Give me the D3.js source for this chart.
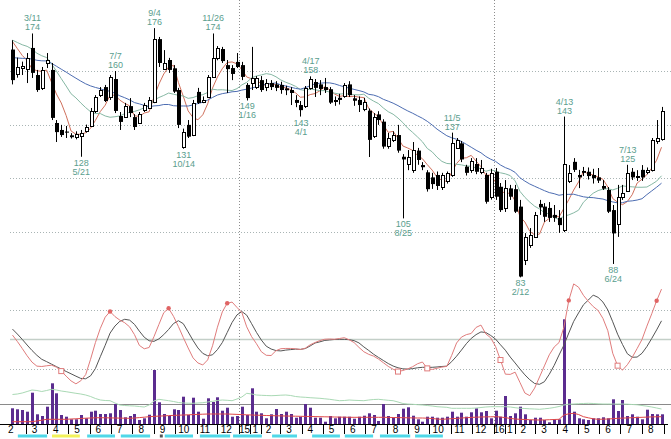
<!DOCTYPE html>
<html><head><meta charset="utf-8">
<script src="https://cdn.jsdelivr.net/npm/d3@7"></script>
<style>body{margin:0;background:#fff}svg{display:block}</style>
</head><body>
<svg id="c" width="671" height="439"></svg>
<script>
// ---------- data (weekly candles starting week of 2014-02-10) ----------
const startWeek = "2014-02-10";
const opens = [168,159,161,161,168.6,158.5,153.7,163,160.4,140.6,
138,137.4,136,135.5,135.8,137.6,139.5,145.1,151,154,
150.3,157,143.2,142.8,146.9,142.8,140.6,145.4,146.2,148.4,
171.9,160.7,164.1,161,152.9,131.8,139.9,136.1,152.2,148.4,
150.4,157.9,165,168.2,162.2,161.1,163.4,162.2,154.8,155.5,
154,156.6,154,155.5,155,154.8,153.5,152.9,149.2,147.3,
146.9,153.7,155.9,155,154,153.2,148.5,150,150.7,155,
149.8,149.2,146,145.2,135.7,143.8,141.1,131.8,134.3,136.1,
128,125.3,123.1,130.3,124.9,122.2,120.3,121.2,116.8,118.7,
121.2,131.5,133,124.3,122.8,125.3,122.3,121.2,113,122.4,
116.8,108.8,116.2,115.9,109.4,89.5,95.1,98.2,110.4,109.4,
108.9,106.3,105.2,100.7,118.7,126.1,121.2,122.7,122.4,121.2,
120.3,117.1,115.6,108.1,103.2,113,115.3,122.4,120.5,123.1,
122.5,123.1,133.6,134.9];
const highs = [171.5,165,163.5,166.7,174,160.4,161.5,166.7,163,141.7,
139.9,139.5,136.8,137.5,138,140,146.2,151,154,154.8,
158.5,160,144.7,148.1,149.9,143.9,144.7,148.1,150.3,176,
172.7,167.8,164.9,162.2,153.7,138.5,141.7,149.2,153.7,150.5,
158.5,174,169.3,169,164.1,162.2,166.7,163.4,155.5,169,
158.1,158.1,157,156.6,156.2,156,154.5,154,151,148.8,
154.4,158,157,156.6,157.4,154,150.5,151.5,155.5,156.2,
151,150.5,150,146,144.3,145,142,136.9,137.5,139.9,
129,130.5,133.5,131.3,126,123,122,122.5,122,122.5,
137,135,133.9,125,127.5,127.5,126.8,122,123.5,123.8,
118.2,119.3,117.5,117.5,111.9,99.5,101.4,107.4,111.9,110.7,
111.1,110,108.1,143,124.9,127.5,123.1,124.2,124,123.5,
123.8,119.3,116.7,110,117.5,117.5,125,123.8,123,124.9,
124,135,141.7,146.6];
const lows = [155,157.5,158.5,155.5,157.4,152.2,152.9,161.1,141.7,133.5,
135.4,135,134.8,134.5,128,137,139.1,144.3,150.3,148.4,
149.2,144.3,138,142.5,142.8,138,140.6,144.7,146,148,
161.5,160.4,159.3,151.8,138.7,131,135,135.7,147.7,148,
150.3,157.4,164,163,151.8,156.6,161.1,156.6,149,152.9,
153.3,152.2,152.5,152.9,152.5,151.5,151,147.3,146.5,143,
146.2,153,150.3,151,151.8,147.7,147,147.5,150,150.3,
147,144.7,145,127.9,135,139.9,131,131,133.5,129.5,
105,123,122,125,123,115,116,115.6,115.6,118,
120.5,131,126,121,122,121.5,121.5,110.5,112,111.9,
107.4,107.4,111.9,107,83,87.6,94,97.7,106.3,103.7,
103.7,103.7,99.6,99.9,118.2,122.3,116.3,120.8,119.5,118,
118.2,115.6,107,88,98.1,111.9,114.9,119.3,119,119,
121.5,122.5,132.8,134];
const closes = [156.6,161.5,161.8,165,159.3,152.9,160.4,164.1,142.5,137.2,
136.1,137,135.3,136.5,137,139.1,145.1,150.3,152.9,148.8,
157.8,145.1,141,146.9,144.3,139.1,144,147.3,149.2,171.9,
163,163,160.4,152.3,139.9,137.4,135.5,148.1,148.1,149.2,
157.9,165,168.6,163.7,160.7,158.9,161.5,157.8,149.9,157.4,
157.4,152.9,155.5,154,153.7,152.9,152.8,151.8,148.1,145.4,
153.7,157,153.7,153.3,152.9,148.2,149,149.2,154.8,151,
148.9,147.3,148.5,134.3,142.9,141.7,131.8,134.9,136.1,130.3,
127,128,130.5,126.8,124.1,115.9,117.8,117.1,121.2,121.8,
133,134.3,127,122,126.3,122.4,123.7,111.2,122.1,113.1,
108.1,116.2,113.1,107.5,83.3,98.2,98.9,106.3,109.1,105.6,
105.2,105.2,102.5,125.3,121.8,123.1,120.3,122,120.8,120,
119.1,116.1,107.5,99.4,113.1,114.5,122,120.3,121,120.3,
123.1,134.3,134.9,145.2];
const volumes = [157,147,140,123,313,97,80,173,407,307,
90,73,47,47,90,57,123,133,100,100,
107,200,140,67,80,100,40,57,93,540,
217,100,80,147,140,273,90,263,123,53,
257,220,267,133,163,73,80,173,90,357,
123,107,57,97,150,100,123,100,63,73,
200,163,63,63,23,80,57,73,73,73,
53,73,83,107,90,30,200,80,63,100,
153,167,83,47,23,73,73,63,63,73,
123,73,113,73,117,157,117,130,57,133,
73,280,80,107,173,97,40,63,63,40,
17,47,47,1047,250,123,57,47,40,57,
57,67,57,247,130,240,80,97,73,47,
143,100,97,97];
const marginBuy = [295,300,310,325,340,335,325,335,347,340,
330,323,315,307,300,290,275,255,240,235,
233,210,190,185,182,180,175,170,190,230,
247,240,233,225,215,210,208,207,210,213,
220,227,235,240,237,233,250,270,307,300,
290,287,285,283,285,288,290,285,275,270,
267,263,260,257,252,247,240,233,235,240,
237,235,233,240,245,247,242,237,233,220,
205,200,197,193,190,185,180,173,170,167,
157,157,157,157,157,160,165,170,173,173,
173,173,170,163,157,155,152,150,147,152,
157,165,175,190,198,200,203,205,207,205,
202,200,200,200,200,200,198,195,192,185,
178,170,160,150];
const marginSell = [23,23,23,23,23,30,38,47,47,47,
47,47,50,52,55,58,60,62,63,62,
61,60,59,58,57,60,64,68,73,76,
79,81,84,86,88,90,92,94,96,98,
100,100,100,100,100,98,96,94,92,90,
88,87,85,84,82,81,80,79,78,77,
76,75,74,73,72,71,70,69,68,67,
67,67,67,67,67,67,67,66,65,64,
63,62,61,60,60,58,55,50,47,50,
53,56,60,63,66,68,70,71,72,73,
70,63,56,50,47,45,43,41,40,41,
43,45,47,90,102,107,95,73,62,52,
47,48,50,53,57,59,61,63,65,67,
69,71,72,73];
const oscFast = [53.3,47.9,42,35.8,30.4,27,26.7,27.3,27.8,26.2,
22.8,18.5,14.5,12,14.6,19.8,32.8,47,59,68.5,
73.3,69,66,63.8,60.3,53.7,44.6,41.7,42.8,52,
62.3,72.3,76,69.2,60.6,51.3,42.4,34,29.7,28,
32.3,44.3,60,73,80.3,81.3,76.8,72.5,60.3,52,
46,39.2,36.2,36,40.1,41.8,42,42,41.7,41.1,
42.2,45.1,47,48.7,49.8,50,49.8,50.4,51.1,49.3,
47,42.9,39.2,37,35.5,33,29.9,26.8,24.4,22.4,
23.3,24.7,26.5,29,30.5,25.1,24.2,25.2,26.2,26.8,
36.1,46.6,51.6,53.7,54.7,59.8,61.8,54.3,51,43.6,
32.2,20.2,20,21.9,13.1,4.2,2,8.4,17.8,27.2,
36.6,43.2,47,60,82.7,96.7,93.9,87,81.9,77.5,
74.2,67.4,57,37.9,27.4,23.6,28.2,34.5,41.9,49.6,
60.9,71.4,82.4,92.3];
const oscSlow = [58.4,54.2,49.7,44.9,40.3,36.2,32.8,30.8,28.7,26.6,
24.5,22.5,20.5,18.5,16.6,16.3,18.8,25,35,44.7,
55,61,65,66.7,66,62.4,56.7,51.5,48.5,48,
50.1,53.7,58.1,63.1,65.5,63,56,48.8,42.4,37.8,
35.8,36.6,41,47,55.5,64,70.4,73.3,70.2,63,
55.6,49.1,43.9,41.5,40.2,39.9,40.6,41,41.4,41.2,
41.9,44.1,46.6,47.6,48.8,49.2,49.6,49.7,49.7,49.4,
48.6,46.7,43.3,40.3,37.1,34.4,31.8,29.2,27.1,25.6,
24.7,24.5,24.9,25.6,26,26,26,26.3,26.7,27,
30.8,35.4,40.6,46,50.5,53.7,56,55.5,53,49.9,
45.1,40.5,34.7,29.7,24.5,19.6,15.5,12.3,11.6,13.8,
20.1,27.6,36.4,44.8,55.1,64.9,72.1,79,83,87.2,
85.3,81.3,74.6,64.6,54.1,45.4,37.5,34.5,34.7,37.9,
43.6,50.5,57.7,65.4];
const oscUpMarks = [20,32,44,114,132];
const oscDownMarks = [10,79,85,100,124];
const maPeriods = [5,13,26];
const maStart = [171,171.5,165];
const maColors = ["#d0705c","#86b8a4","#4d6db2"];
const priceTicks = [100,120,140,160];
const oscTicks = [25,50,75];
const extremes = [
 {i:4,type:"h",date:"3/11",price:174},{i:14,type:"l",date:"5/21",price:128},
 {i:21,type:"h",date:"7/7",price:160},{i:29,type:"h",date:"9/4",price:176},
 {i:35,type:"l",date:"10/14",price:131},{i:41,type:"h",date:"11/26",price:174},
 {i:48,type:"l",date:"1/16",price:149},{i:59,type:"l",date:"4/1",price:143},
 {i:61,type:"h",date:"4/17",price:158},{i:80,type:"l",date:"8/25",price:105},
 {i:90,type:"h",date:"11/5",price:137},{i:104,type:"l",date:"2/12",price:83},
 {i:113,type:"h",date:"4/13",price:143},{i:123,type:"l",date:"6/24",price:88},
 {i:126,type:"h",date:"7/13",price:125}];
const bandStarts = [1.1,8.1,15.3,22.2,30.2,31.2,38.4,45.2,53.2,61.4,68.1,75.3,82.5];
const bandEnds   = [7.1,13.8,21,28.2,30.8,37,44.6,51.1,58.3,67.1,73.9,81.5,88.2];
const bandKinds  = ["c","y","c","c","d","c","c","c","c","c","c","c","c"];

// ---------- scales ----------
const parse = d3.timeParse("%Y-%m-%d");
const t0 = parse(startWeek);
const dates = opens.map((_, i) => d3.timeWeek.offset(t0, i));
const x = d3.scaleTime().domain([parse("2014-02-01"), parse("2016-09-05")]).range([6.2, 666.4]);
const y = d3.scaleLinear().domain([100,160]).range([231.8,71]);
const yo = d3.scaleLinear().domain([0,100]).range([398,280]);
const yv = d3.scaleLinear().domain([0,1000]).range([424,324]);
const xi = i => x(new Date(t0.getTime() + i*7*864e5));
const px = v => Math.round(v) + 0.5;
const lastDate = dates[dates.length - 1];

const svg = d3.select("#c");
const FONT = "Liberation Sans, Arial, sans-serif";

// ---------- grid ----------
const g = svg.append("g");
priceTicks.forEach(p => g.append("line").attr("x1",10).attr("x2",671)
  .attr("y1",px(y(p))).attr("y2",px(y(p))).attr("stroke","#a9b4b4").attr("stroke-dasharray","1,2"));
oscTicks.forEach(v => {
  const l = g.append("line").attr("x1",10).attr("x2",671).attr("y1",px(yo(v))).attr("y2",px(yo(v)));
  if (v === 50) l.attr("stroke","#c3cfc8").attr("stroke-width",1.3);
  else l.attr("stroke","#a9b4b4").attr("stroke-dasharray","1,2");
});
g.append("line").attr("x1",0).attr("x2",671).attr("y1",px(yv(200))).attr("y2",px(yv(200)))
  .attr("stroke","#8a8a8a");
const months = d3.timeMonth.range(x.domain()[0], lastDate);
months.filter(m => m.getMonth() === 0).forEach(m =>
  g.append("line").attr("x1",px(x(m))).attr("x2",px(x(m))).attr("y1",0).attr("y2",424)
   .attr("stroke","#8d8d8d").attr("stroke-dasharray","1,2"));

// ---------- moving averages ----------
maPeriods.forEach((n, k) => {
  const prior = (maStart[k]*n - closes[0]) / (n - 1);
  const ma = closes.map((c, i) => {
    let s = 0;
    for (let j = i - n + 1; j <= i; j++) s += j >= 0 ? closes[j] : prior;
    return s / n;
  });
  svg.append("path").attr("d", d3.line().x((d,i) => x(dates[i])).y(d => y(d))(ma))
    .attr("fill","none").attr("stroke",maColors[k]).attr("stroke-width",1);
});

// ---------- candles ----------
const cg = svg.append("g");
dates.forEach((d, i) => {
  const cx = Math.round(x(d));
  const o = opens[i], c = closes[i];
  cg.append("line").attr("x1",cx+0.5).attr("x2",cx+0.5).attr("y1",y(highs[i])).attr("y2",y(lows[i]))
    .attr("stroke","#000").attr("stroke-width",1);
  const top = y(Math.max(o,c)), bot = y(Math.min(o,c));
  const h = Math.max(1, bot - top);
  if (c >= o) {
    cg.append("rect").attr("x",cx-0.5).attr("y",Math.round(top)+0.5).attr("width",3).attr("height",Math.max(1,Math.round(h)))
      .attr("fill","#fff").attr("stroke","#000").attr("stroke-width",1);
  } else {
    cg.append("rect").attr("x",cx-1).attr("y",top).attr("width",4).attr("height",h).attr("fill","#000");
  }
});

// ---------- high/low annotations ----------
extremes.forEach(e => {
  const cx = x(dates[e.i]) + 0.5;
  const yy = y(e.price);
  const lines = e.type === "h" ? [[e.date, yy-12],[String(e.price), yy-3]]
                               : [[String(e.price), yy+9],[e.date, yy+18]];
  lines.forEach(([t, ty]) => svg.append("text").attr("x",cx).attr("y",ty).attr("text-anchor","middle")
    .attr("font-family",FONT).attr("font-size",9).attr("fill","#5a9e8e").text(t));
});

// ---------- volume ----------
const vg = svg.append("g");
dates.forEach((d, i) => {
  const cx = Math.round(x(d));
  vg.append("rect").attr("x",cx-1).attr("y",yv(volumes[i])).attr("width",3).attr("height",424-yv(volumes[i]))
    .attr("fill","#5b2c8f");
});
svg.append("path").attr("d", d3.line().x((d,i)=>x(dates[i])).y(d=>yv(d))(marginBuy))
  .attr("fill","none").attr("stroke","#a9d9b4").attr("stroke-width",1);
svg.append("path").attr("d", d3.line().x((d,i)=>x(dates[i])).y(d=>yv(d))(marginSell))
  .attr("fill","none").attr("stroke","#e04848").attr("stroke-width",1);

// ---------- oscillator ----------
svg.append("clipPath").attr("id","oc").append("rect").attr("x",0).attr("y",278).attr("width",671).attr("height",150);
const og = svg.append("g").attr("clip-path","url(#oc)");
const oline = d3.line().x((d,i)=>x(dates[i])).y(d=>yo(d));
og.append("path").attr("d", oline(oscSlow)).attr("fill","none").attr("stroke","#555").attr("stroke-width",1);
og.append("path").attr("d", oline(oscFast)).attr("fill","none").attr("stroke","#e07c7c").attr("stroke-width",1);
oscUpMarks.forEach(i => og.append("circle").attr("cx",x(dates[i])).attr("cy",yo(oscFast[i])).attr("r",2.2)
  .attr("fill","#e06464"));
oscDownMarks.forEach(i => og.append("rect").attr("x",x(dates[i])-2.5).attr("y",yo(oscFast[i])-2.5)
  .attr("width",5).attr("height",5).attr("fill","#fff").attr("stroke","#e07c7c"));

// ---------- time axis ----------
svg.append("line").attr("x1",0).attr("x2",668).attr("y1",424.5).attr("y2",424.5).attr("stroke","#000");
const ag = svg.append("g");
const tick = xx => ag.append("line").attr("x1",px(xx)).attr("x2",px(xx)).attr("y1",424).attr("y2",434).attr("stroke","#000");
const label = (t, xx) => ag.append("text").attr("x",xx).attr("y",433).attr("text-anchor","middle")
  .attr("font-family",FONT).attr("font-size",10).attr("fill","#000").text(t);
months.forEach((m, k) => {
  const xs = k === 0 ? 0 : x(m);
  const xe = x(d3.timeMonth.offset(m, 1));
  if (k > 0) tick(x(m));
  if (m.getMonth() === 0) {
    label(d3.timeFormat("%y")(m), x(m) + 5.5);
    tick(x(m) + 11);
    label("1", (x(m) + 11 + xe) / 2);
  } else {
    label(String(m.getMonth() + 1), (xs + xe) / 2 - 2);
  }
});
tick(x(d3.timeMonth.offset(months[months.length - 1], 1)));

// ---------- event bands ----------
bandStarts.forEach((s, k) => {
  const col = bandKinds[k] === "c" ? "#4fd8e8" : bandKinds[k] === "y" ? "#f2f25a" : "#555";
  svg.append("rect").attr("x",xi(s)).attr("y",434.5).attr("width",xi(bandEnds[k]) - xi(s)).attr("height",3)
    .attr("fill",col);
});
</script>
</body></html>
